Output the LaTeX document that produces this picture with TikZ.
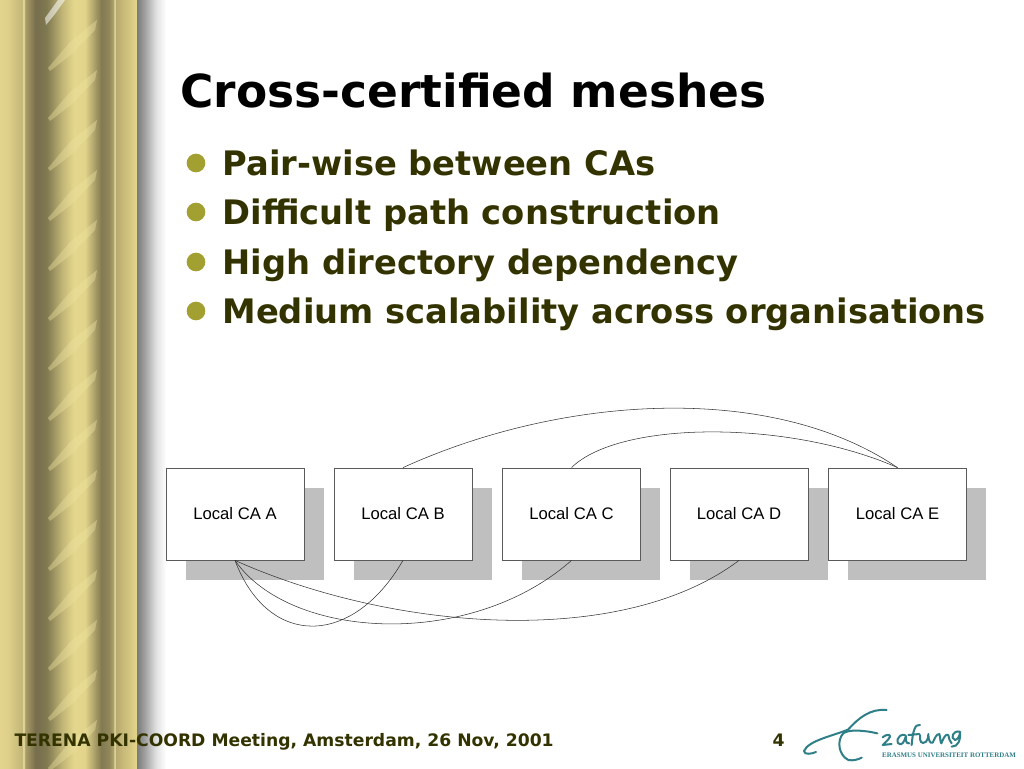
\documentclass[tikz,border=0pt]{standalone}
\usepackage{fontspec}
\setmainfont{DejaVu Sans}
\newfontfamily\boxfont{Liberation Sans}
\newfontfamily\logofont{Liberation Serif}
\usetikzlibrary{positioning}

\definecolor{oliveText}{HTML}{333300}
\definecolor{bulletGreen}{HTML}{A3A032}
\definecolor{shadowGrey}{HTML}{BFBFBF}
\definecolor{edgeGrey}{HTML}{5A5A5A}
\definecolor{logoTeal}{HTML}{2F7F88}
\definecolor{stripeGold}{HTML}{EDE2A0}

%pillar, 0..137 px mapped on 25..75 bp
\pgfdeclarehorizontalshading{pillarShade}{100bp}{
  rgb(0bp)=(.886,.831,.549);
  rgb(25bp)=(.886,.831,.549);
  rgb(28bp)=(.871,.816,.541);
  rgb(33bp)=(.769,.714,.463);
  rgb(33.6bp)=(.925,.886,.667);
  rgb(34.2bp)=(.667,.62,.408);
  rgb(38bp)=(.463,.431,.298);
  rgb(42bp)=(.502,.471,.314);
  rgb(48bp)=(.769,.722,.471);
  rgb(52bp)=(.894,.839,.549);
  rgb(56bp)=(.886,.831,.541);
  rgb(62bp)=(.51,.478,.322);
  rgb(65bp)=(.573,.533,.353);
  rgb(66.4bp)=(.69,.643,.424);
  rgb(66.8bp)=(.925,.886,.667);
  rgb(67.3bp)=(.722,.667,.431);
  rgb(75bp)=(.894,.839,.541);
  rgb(100bp)=(.894,.839,.541)}
\pgfdeclarehorizontalshading{dropShade}{100bp}{
  rgb(0bp)=(.478,.478,.478);
  rgb(25bp)=(.478,.478,.478);
  rgb(38bp)=(.627,.627,.627);
  rgb(58bp)=(.882,.882,.882);
  rgb(75bp)=(1,1,1);
  rgb(100bp)=(1,1,1)}

\tikzset{
  every picture/.style={line width=0.75pt},
  localbox/.style={draw=edgeGrey,fill=white,line width=0.6pt,minimum width=103.5pt,minimum height=69pt,inner sep=0pt,font=\boxfont\fontsize{12.5}{14}\selectfont},
  boxshadow/.style={fill=shadowGrey,minimum width=103.5pt,minimum height=69pt,inner sep=0pt},
  meshline/.style={draw=black!80,line width=0.4pt},
  bulletdot/.style={circle,fill=bulletGreen,minimum size=14pt,inner sep=0pt},
  bullettext/.style={anchor=base west,inner sep=0pt,text=oliveText,font=\bfseries\fontsize{25.3}{30}\selectfont},
  foottext/.style={anchor=base west,inner sep=0pt,text=oliveText,font=\bfseries\fontsize{12.9}{15}\selectfont},
  logostroke/.style={draw=logoTeal,line width=1.5pt,line cap=round,line join=round}
}

\begin{document}
\begin{tikzpicture}[x=0.75pt,y=0.75pt,yscale=-1,xscale=1]
\useasboundingbox (0,0) rectangle (1024,768);

%Background
\fill[white] (0,0) rectangle (1024,768);
\shade[shading=pillarShade] (0,0) rectangle (137,768);
\shade[shading=dropShade] (137,0) rectangle (166,768);

%Stripes
\foreach \sy in {68,118,...,818} {
  \fill[stripeGold,opacity=0.4] (48,\sy) -- (70,\sy-26) -- (97,\sy-48) -- (95,\sy-38) -- (72,\sy-14) -- (50,\sy+3) -- cycle;
}
\fill[white,opacity=0.55] (45,18) -- (58,0) -- (65,0) -- (55,14) -- (46,25) -- cycle;

%Title and bullets
\node[anchor=base west,inner sep=0pt,font=\bfseries\fontsize{34.1}{38}\selectfont] (title) at (180,107) {Cross-certified meshes};
\node[bulletdot] (dotA) at (196,163) {};
\node[bulletdot] (dotB) at (196,212) {};
\node[bulletdot] (dotC) at (196,262) {};
\node[bulletdot] (dotD) at (196,311) {};
\node[bullettext] (itemA) at (222,175) {Pair-wise between CAs};
\node[bullettext] (itemB) at (222,224) {Difficult path construction};
\node[bullettext] (itemC) at (222,274) {High directory dependency};
\node[bullettext] (itemD) at (222,323) {Medium scalability across organisations};

%Shadows
\node[boxshadow] (shadowA) at (255,534) {};
\node[boxshadow] (shadowB) at (423,534) {};
\node[boxshadow] (shadowC) at (591,534) {};
\node[boxshadow] (shadowD) at (759,534) {};
\node[boxshadow] (shadowE) at (917,534) {};

%Boxes
\node[localbox] (boxA) at (235,514) {Local CA A};
\node[localbox] (boxB) at (403,514) {Local CA B};
\node[localbox] (boxC) at (571.5,514) {Local CA C};
\node[localbox] (boxD) at (739,514) {Local CA D};
\node[localbox] (boxE) at (897.5,514) {Local CA E};

%Mesh lines
\draw[meshline] (boxA.south) .. controls (268,648) and (352,648) .. (boxB.south);
\draw[meshline] (boxA.south) .. controls (290,640) and (470,650) .. (boxC.south);
\draw[meshline] (boxA.south) .. controls (390,630) and (620,650) .. (boxD.south);
\draw[meshline] (boxB.north) .. controls (560,396) and (770,381) .. (boxE.north);
\draw[meshline] (boxC.north) .. controls (620,420) and (790,420) .. (boxE.north);

%Footer
\node[foottext] (footer) at (14,746) {TERENA PKI-COORD Meeting, Amsterdam, 26 Nov, 2001};
\node[foottext] (pagenum) at (772,746) {4};

%Logo
\begin{scope}[shift={(780,690)},x=0.25pt,y=0.25pt]
\draw[logostroke] (320,60) .. controls (270,55) and (235,85) .. (205,118) .. controls (170,135) and (85,150) .. (72,183) .. controls (72,195) and (95,192) .. (108,186);
\draw[logostroke] (292,130) .. controls (250,120) and (205,118) .. (190,130) .. controls (170,150) and (175,195) .. (205,210) .. controls (220,213) and (235,208) .. (245,203);
\draw[logostroke] (308,142) .. controls (325,128) and (338,135) .. (325,148) .. controls (318,156) and (312,160) .. (308,165) -- (335,162);
\draw[logostroke] (375,135) .. controls (350,130) and (345,165) .. (362,163) .. controls (372,160) and (375,145) .. (378,138) .. controls (376,150) and (378,162) .. (388,160);
\draw[logostroke] (420,105) .. controls (405,100) and (398,125) .. (395,165) (385,135) -- (418,132);
\draw[logostroke] (420,135) .. controls (418,155) and (425,165) .. (438,155) .. controls (445,145) and (445,138) .. (445,132) .. controls (445,150) and (450,162) .. (458,158) .. controls (465,145) and (468,132) .. (478,132) .. controls (482,145) and (480,155) .. (484,160) .. controls (490,145) and (497,130) .. (505,135) .. controls (508,145) and (508,155) .. (515,160);
\draw[logostroke] (540,125) .. controls (518,120) and (510,145) .. (525,150) .. controls (535,148) and (540,135) .. (540,125) .. controls (542,150) and (535,170) .. (515,170);
\node[anchor=base west,inner sep=0pt,text=logoTeal,font=\logofont\bfseries\fontsize{5.2}{6}\selectfont] (logotext) at (305,203) {ERASMUS UNIVERSITEIT ROTTERDAM};
\end{scope}
\end{tikzpicture}
\end{document}
